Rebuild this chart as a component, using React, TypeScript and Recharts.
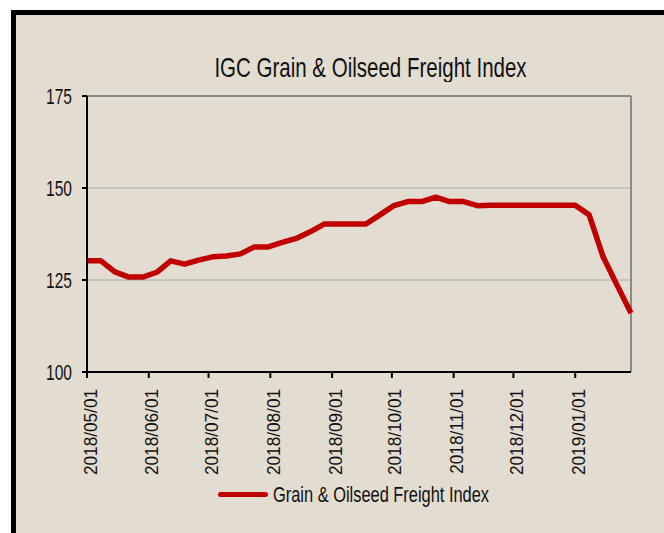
import { LineChart, Line, XAxis, YAxis, CartesianGrid, ReferenceLine } from 'recharts';

const dates = [
  '2018-05-01', '2018-05-08', '2018-05-15', '2018-05-22', '2018-05-29',
  '2018-06-05', '2018-06-12', '2018-06-19', '2018-06-26',
  '2018-07-03', '2018-07-10', '2018-07-17', '2018-07-24', '2018-07-31',
  '2018-08-07', '2018-08-14', '2018-08-21', '2018-08-28',
  '2018-09-04', '2018-09-11', '2018-09-18', '2018-09-25',
  '2018-10-02', '2018-10-09', '2018-10-16', '2018-10-23', '2018-10-30',
  '2018-11-06', '2018-11-13', '2018-11-20', '2018-11-27',
  '2018-12-04', '2018-12-11', '2018-12-18', '2018-12-25',
  '2019-01-01', '2019-01-08', '2019-01-15', '2019-01-22', '2019-01-29',
];

const freightIndex = [
  130.2, 130.2, 127.2, 125.8, 125.8,
  127.1, 130.2, 129.3, 130.4,
  131.3, 131.5, 132.1, 134.0, 134.0,
  135.2, 136.3, 138.1, 140.2,
  140.2, 140.2, 140.2, 142.7,
  145.2, 146.3, 146.3, 147.5, 146.3,
  146.3, 145.2, 145.3, 145.3,
  145.3, 145.3, 145.3, 145.3,
  145.3, 142.7, 131.3, 123.6, 116.0,
];

const monthTicks = [
  '2018-05-01', '2018-06-01', '2018-07-01', '2018-08-01', '2018-09-01',
  '2018-10-01', '2018-11-01', '2018-12-01', '2019-01-01',
];

const yTicks = [100, 125, 150, 175];

const TITLE = 'IGC Grain & Oilseed Freight Index';
const SERIES_NAME = 'Grain & Oilseed Freight Index';
const LINE_COLOR = '#c00000';
const FONT = "'Liberation Sans', Arial, sans-serif";
// no narrow font installed, so squeeze text horizontally (and stretch a bit in height)
const NARROW = 0.82;

const data = dates.map((d, i) => ({ t: Date.parse(d), value: freightIndex[i] }));
const tickTimes = monthTicks.map((d) => Date.parse(d));

function fmtDate(t: number) {
  const d = new Date(t);
  const mm = String(d.getUTCMonth() + 1).padStart(2, '0');
  const dd = String(d.getUTCDate()).padStart(2, '0');
  return `${d.getUTCFullYear()}/${mm}/${dd}`;
}

function DateTick(props: any) {
  const { x, y, payload } = props;
  return (
    <g transform={`translate(${x},${y}) rotate(-90) scale(${NARROW + 0.04},0.95)`}>
      <text x={0} y={0} dy={10} textAnchor="end" fontSize={20} fontFamily={FONT} fill="#111">
        {fmtDate(payload.value)}
      </text>
    </g>
  );
}

function ValueTick(props: any) {
  const { x, y, payload } = props;
  return (
    <g transform={`translate(${x},${y}) scale(${NARROW},1.12)`}>
      <text x={0} y={0} dy="0.36em" textAnchor="end" fontSize={19} fontFamily={FONT} fill="#111">
        {payload.value}
      </text>
    </g>
  );
}

export default function App() {
  return (
    <div
      style={{
        position: 'fixed',
        left: 0,
        top: 0,
        width: 664,
        height: 533,
        overflow: 'hidden',
        background: '#fff',
        fontFamily: FONT,
      }}
    >
      <div
        style={{
          position: 'absolute',
          left: 11,
          top: 10,
          width: 720,
          height: 580,
          border: '5px solid #000',
          background: '#e3dcd1',
        }}
      />
      <div
        style={{
          position: 'absolute',
          left: 0,
          top: 55,
          width: 741,
          textAlign: 'center',
          fontSize: 25,
          lineHeight: '25px',
          color: '#111',
          transform: `scale(${NARROW},1.07)`,
        }}
      >
        {TITLE}
      </div>
      <div style={{ position: 'absolute', left: 0, top: 0 }}>
        <LineChart
          width={664}
          height={533}
          data={data}
          margin={{ top: 96, right: 33, left: 27, bottom: 61 }}
        >
          <CartesianGrid horizontal vertical={false} stroke="#bdbdbd" strokeWidth={1.5} />
          <ReferenceLine y={175} stroke="#8a8a8a" strokeWidth={2} />
          <ReferenceLine x={data[data.length - 1].t} stroke="#8a8a8a" strokeWidth={2} />
          <XAxis
            dataKey="t"
            type="number"
            scale="time"
            domain={['dataMin', 'dataMax']}
            ticks={tickTimes}
            interval={0}
            height={100}
            tick={<DateTick />}
            tickSize={6}
            tickMargin={11}
            axisLine={{ stroke: '#000', strokeWidth: 2 }}
            tickLine={{ stroke: '#000', strokeWidth: 2 }}
          />
          <YAxis
            domain={[100, 175]}
            ticks={yTicks}
            interval={0}
            width={60}
            tickSize={5}
            tickMargin={10}
            tick={<ValueTick />}
            axisLine={{ stroke: '#000', strokeWidth: 2 }}
            tickLine={{ stroke: '#000', strokeWidth: 2 }}
          />
          <Line
            type="linear"
            dataKey="value"
            name={SERIES_NAME}
            stroke={LINE_COLOR}
            strokeWidth={5.5}
            strokeLinejoin="round"
            dot={false}
            isAnimationActive={false}
          />
        </LineChart>
      </div>
      <div
        style={{
          position: 'absolute',
          left: 218,
          top: 482,
          display: 'flex',
          alignItems: 'center',
          fontSize: 20,
          lineHeight: '24px',
          color: '#111',
          whiteSpace: 'nowrap',
        }}
      >
        <span
          style={{
            display: 'inline-block',
            width: 50,
            height: 5,
            borderRadius: 3,
            background: LINE_COLOR,
            marginRight: 5,
          }}
        />
        <span
          style={{
            display: 'inline-block',
            transform: `scale(${NARROW},1.1)`,
            transformOrigin: 'left center',
          }}
        >
          {SERIES_NAME}
        </span>
      </div>
    </div>
  );
}
